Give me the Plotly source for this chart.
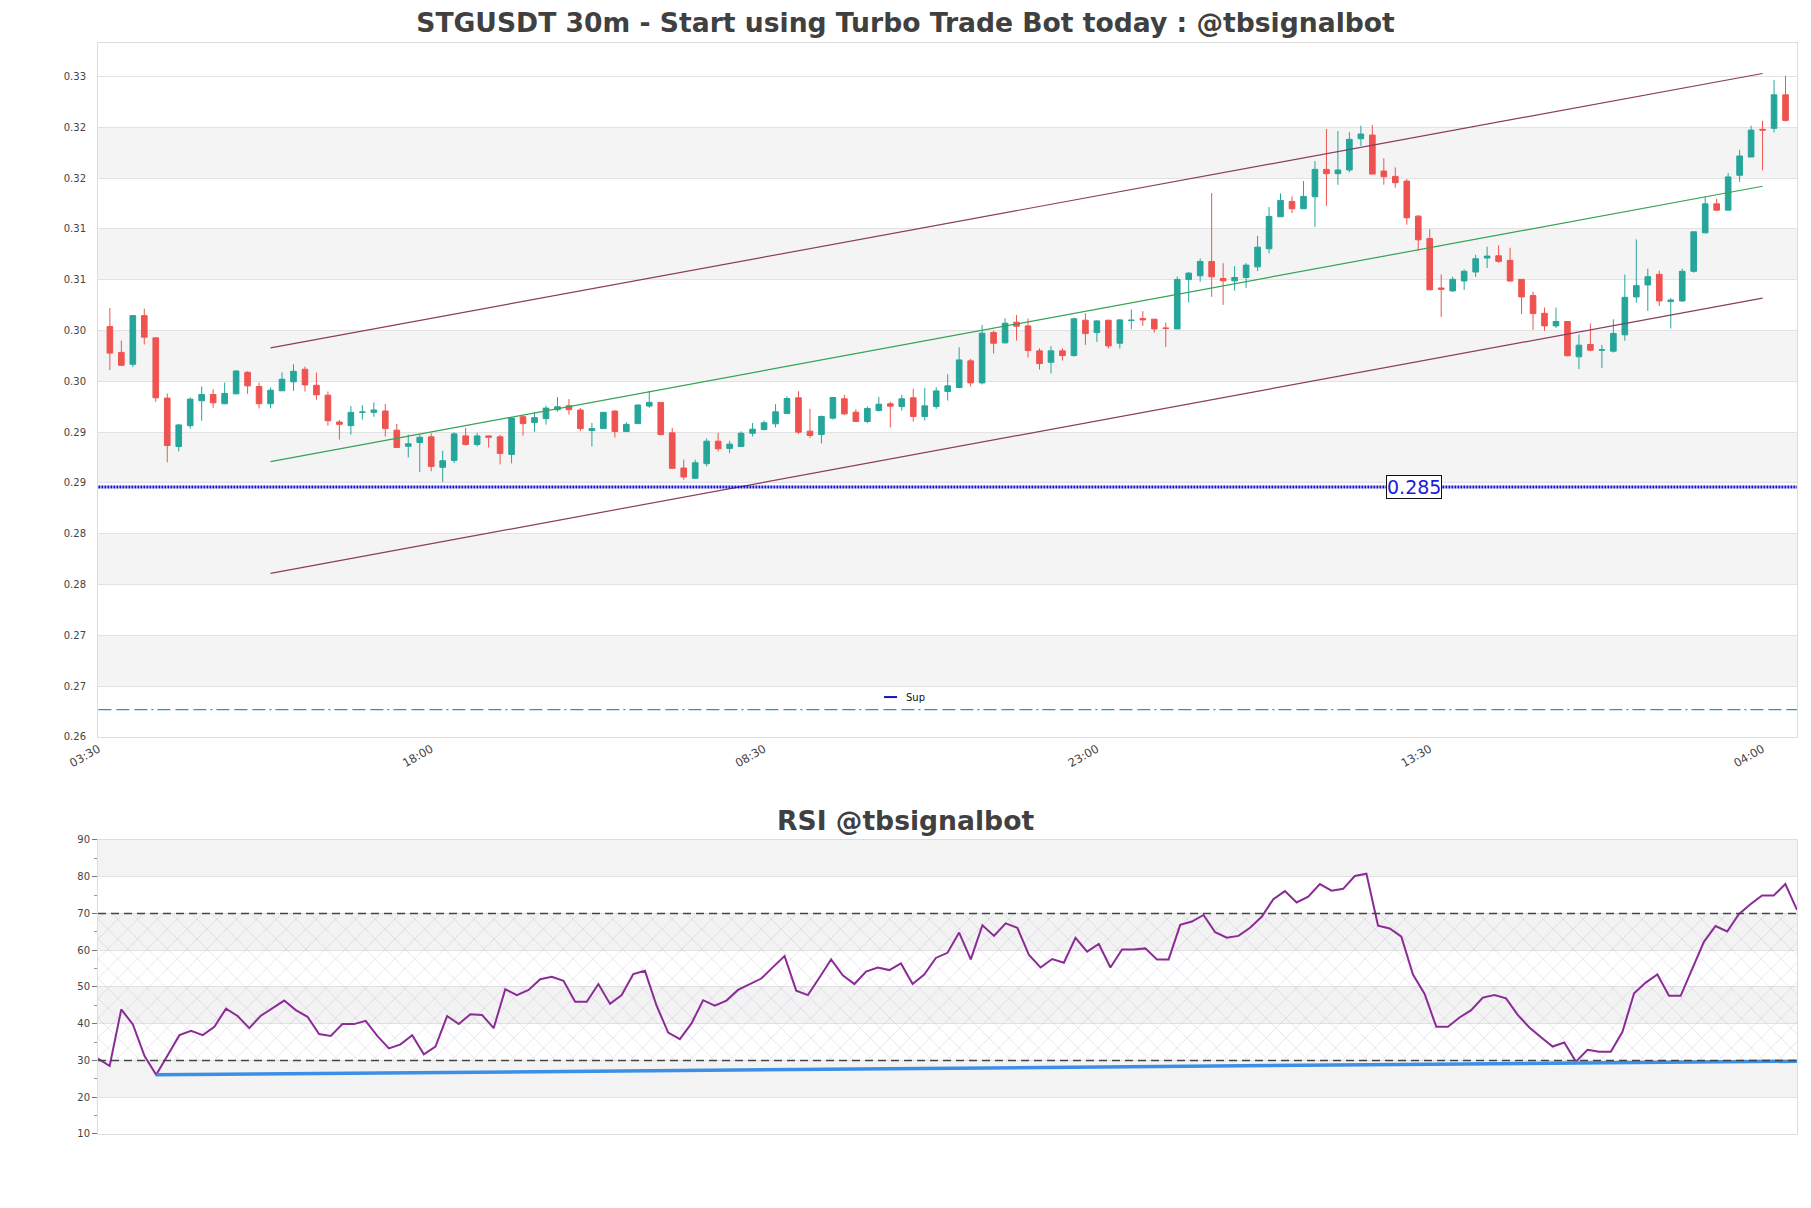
import plotly.graph_objects as go
import pandas as pd

# ---------------- data ----------------
open_ = [0.30039, 0.29785, 0.29668, 0.30147, 0.29928, 0.29335, 0.28859, 0.29064, 0.29309, 0.29371,
         0.29280, 0.29377, 0.29589, 0.29449, 0.29280, 0.29407, 0.29495, 0.29619, 0.29462, 0.29364,
         0.29100, 0.29064, 0.29195, 0.29195, 0.29208, 0.29020, 0.28862, 0.28898, 0.28954, 0.28654,
         0.28722, 0.28963, 0.28879, 0.28963, 0.28954, 0.28781, 0.29152, 0.29094, 0.29133, 0.29221,
         0.29260, 0.29218, 0.29016, 0.29035, 0.29208, 0.29006, 0.29084, 0.29257, 0.29293, 0.28993,
         0.28647, 0.28546, 0.28690, 0.28911, 0.28840, 0.28859, 0.28989, 0.29026, 0.29082, 0.29183,
         0.29338, 0.29010, 0.28977, 0.29138, 0.29328, 0.29197, 0.29105, 0.29213, 0.29279, 0.29252,
         0.29338, 0.29154, 0.29252, 0.29400, 0.29439, 0.29702, 0.29485, 0.29980, 0.29879, 0.30082,
         0.30046, 0.29800, 0.29688, 0.29800, 0.29754, 0.30102, 0.29980, 0.30102, 0.29875, 0.30099,
         0.30118, 0.30112, 0.30026, 0.30016, 0.30503, 0.30539, 0.30680, 0.30512, 0.30489, 0.30522,
         0.30627, 0.30805, 0.31120, 0.31271, 0.31199, 0.31317, 0.31586, 0.31544, 0.31580, 0.31888,
         0.31924, 0.31570, 0.31517, 0.31471, 0.31126, 0.30906, 0.30419, 0.30390, 0.30488, 0.30576,
         0.30714, 0.30736, 0.30691, 0.30504, 0.30344, 0.30170, 0.30046, 0.30089, 0.29742, 0.29863,
         0.29807, 0.29797, 0.29958, 0.30331, 0.30449, 0.30553, 0.30285, 0.30291, 0.30583, 0.30962,
         0.31247, 0.31185, 0.31528, 0.31708, 0.31980, 0.31990, 0.32320]
high = [0.30222, 0.29902, 0.30153, 0.30215, 0.29928, 0.29381, 0.29081, 0.29342, 0.29449, 0.29423,
        0.29488, 0.29609, 0.29599, 0.29488, 0.29439, 0.29589, 0.29668, 0.29645, 0.29586, 0.29400,
        0.29120, 0.29257, 0.29266, 0.29293, 0.29276, 0.29081, 0.28976, 0.28973, 0.28989, 0.28817,
        0.28999, 0.29042, 0.28993, 0.28967, 0.28973, 0.29146, 0.29162, 0.29201, 0.29260, 0.29345,
        0.29325, 0.29237, 0.29091, 0.29195, 0.29214, 0.29097, 0.29273, 0.29407, 0.29293, 0.29042,
        0.28729, 0.28729, 0.28937, 0.28993, 0.28914, 0.29009, 0.29091, 0.29115, 0.29275, 0.29354,
        0.29403, 0.29229, 0.29164, 0.29347, 0.29367, 0.29226, 0.29252, 0.29347, 0.29301, 0.29367,
        0.29426, 0.29436, 0.29442, 0.29570, 0.29836, 0.29721, 0.30056, 0.30000, 0.30121, 0.30154,
        0.30118, 0.29826, 0.29846, 0.29826, 0.30128, 0.30170, 0.30102, 0.30102, 0.30112, 0.30207,
        0.30191, 0.30112, 0.30079, 0.30532, 0.30578, 0.30709, 0.31353, 0.30663, 0.30634, 0.30663,
        0.30933, 0.31215, 0.31350, 0.31320, 0.31471, 0.31668, 0.31984, 0.31964, 0.31951, 0.32016,
        0.32023, 0.31695, 0.31606, 0.31491, 0.31136, 0.30998, 0.30553, 0.30530, 0.30602, 0.30746,
        0.30825, 0.30838, 0.30815, 0.30504, 0.30383, 0.30226, 0.30226, 0.30092, 0.29961, 0.30069,
        0.29860, 0.30111, 0.30550, 0.30897, 0.30609, 0.30589, 0.30318, 0.30609, 0.30972, 0.31319,
        0.31296, 0.31551, 0.31780, 0.32016, 0.32065, 0.32467, 0.32507]
low = [0.29612, 0.29651, 0.29641, 0.29863, 0.29299, 0.28703, 0.28810, 0.29035, 0.29113, 0.29240,
       0.29276, 0.29371, 0.29377, 0.29234, 0.29234, 0.29407, 0.29407, 0.29400, 0.29319, 0.29064,
       0.28927, 0.28976, 0.29123, 0.29152, 0.28957, 0.28849, 0.28751, 0.28608, 0.28615, 0.28510,
       0.28696, 0.28869, 0.28859, 0.28849, 0.28683, 0.28693, 0.28967, 0.29006, 0.29074, 0.29201,
       0.29172, 0.29009, 0.28859, 0.29032, 0.28947, 0.29003, 0.29081, 0.29240, 0.28967, 0.28641,
       0.28533, 0.28543, 0.28663, 0.28810, 0.28794, 0.28859, 0.28957, 0.29016, 0.29046, 0.29183,
       0.28983, 0.28941, 0.28888, 0.29124, 0.29170, 0.29105, 0.29088, 0.29203, 0.29046, 0.29213,
       0.29105, 0.29115, 0.29229, 0.29311, 0.29433, 0.29449, 0.29469, 0.29774, 0.29872, 0.29902,
       0.29734, 0.29616, 0.29577, 0.29705, 0.29744, 0.29859, 0.29888, 0.29823, 0.29823, 0.30013,
       0.30046, 0.29980, 0.29839, 0.30016, 0.30276, 0.30480, 0.30332, 0.30253, 0.30391, 0.30420,
       0.30585, 0.30759, 0.31120, 0.31156, 0.31199, 0.31021, 0.31228, 0.31435, 0.31557, 0.31819,
       0.31540, 0.31435, 0.31406, 0.31041, 0.30785, 0.30401, 0.30134, 0.30383, 0.30399, 0.30527,
       0.30615, 0.30668, 0.30481, 0.30161, 0.30007, 0.29997, 0.30026, 0.29748, 0.29621, 0.29797,
       0.29631, 0.29784, 0.29899, 0.30275, 0.30193, 0.30242, 0.30020, 0.30282, 0.30570, 0.30956,
       0.31175, 0.31185, 0.31463, 0.31708, 0.31577, 0.31950, 0.32058]
close = [0.29778, 0.29658, 0.30147, 0.29935, 0.29338, 0.28869, 0.29071, 0.29325, 0.29371, 0.29289,
         0.29381, 0.29602, 0.29456, 0.29280, 0.29413, 0.29521, 0.29599, 0.29465, 0.29368, 0.29113,
         0.29077, 0.29195, 0.29198, 0.29218, 0.29035, 0.28849, 0.28885, 0.28950, 0.28663, 0.28719,
         0.28983, 0.28879, 0.28963, 0.28950, 0.28791, 0.29139, 0.29084, 0.29143, 0.29237, 0.29250,
         0.29221, 0.29035, 0.29035, 0.29195, 0.29006, 0.29077, 0.29267, 0.29293, 0.28976, 0.28644,
         0.28559, 0.28699, 0.28911, 0.28836, 0.28882, 0.28989, 0.29029, 0.29092, 0.29200, 0.29331,
         0.29000, 0.28967, 0.29154, 0.29341, 0.29180, 0.29105, 0.29233, 0.29275, 0.29256, 0.29328,
         0.29154, 0.29259, 0.29406, 0.29456, 0.29711, 0.29485, 0.29974, 0.29875, 0.30072, 0.30043,
         0.29803, 0.29675, 0.29800, 0.29754, 0.30115, 0.29970, 0.30095, 0.29849, 0.30105, 0.30102,
         0.30105, 0.30016, 0.30020, 0.30503, 0.30565, 0.30680, 0.30529, 0.30489, 0.30522, 0.30644,
         0.30821, 0.31123, 0.31281, 0.31199, 0.31320, 0.31586, 0.31544, 0.31580, 0.31882, 0.31934,
         0.31540, 0.31514, 0.31455, 0.31110, 0.30893, 0.30401, 0.30406, 0.30504, 0.30583, 0.30707,
         0.30733, 0.30681, 0.30488, 0.30331, 0.30167, 0.30046, 0.30089, 0.29752, 0.29856, 0.29807,
         0.29810, 0.29971, 0.30327, 0.30442, 0.30530, 0.30291, 0.30301, 0.30583, 0.30972, 0.31247,
         0.31185, 0.31512, 0.31718, 0.31973, 0.31973, 0.32320, 0.32068]
rsi = [30.5, 28.5, 43.9, 39.8, 31.2, 26.1, 31.5, 36.9, 38.1, 36.9,
       39.2, 44.1, 42.1, 38.8, 42.2, 44.2, 46.3, 43.7, 41.9, 37.2,
       36.7, 39.9, 39.9, 40.8, 36.7, 33.3, 34.4, 36.9, 31.7, 33.8,
       42.1, 39.9, 42.6, 42.4, 38.8, 49.4, 47.8, 49.2, 52.1, 52.8,
       51.7, 46.0, 46.0, 50.8, 45.4, 47.8, 53.5, 54.4, 44.9, 37.6,
       35.8, 40.1, 46.4, 44.9, 46.3, 49.2, 50.8, 52.3, 55.4, 58.4,
       49.0, 47.8, 52.6, 57.5, 53.2, 50.8, 54.2, 55.3, 54.6, 56.4,
       50.8, 53.4, 57.9, 59.3, 64.8, 57.5, 66.8, 63.9, 67.3, 66.1,
       58.7, 55.3, 57.6, 56.6, 63.4, 59.6, 61.7, 55.3, 60.2, 60.2,
       60.5, 57.5, 57.5, 66.9, 67.8, 69.6, 64.9, 63.4, 63.9, 66.1,
       69.1, 73.9, 76.1, 73.0, 74.6, 78.0, 76.2, 76.7, 80.2, 80.8,
       66.7, 65.9, 63.7, 53.4, 48.1, 39.2, 39.2, 41.7, 43.7, 47.1,
       47.8, 46.9, 42.4, 39.0, 36.3, 33.8, 34.9, 29.7, 32.9, 32.4,
       32.4, 37.8, 48.3, 51.2, 53.4, 47.6, 47.6, 55.1, 62.3, 66.6,
       65.1, 69.8, 72.5, 74.9, 74.9, 78.0, 71.0]

start_time = pd.Timestamp("2023-06-12 04:00")
bar_step = pd.Timedelta(minutes=30)
times = pd.date_range(start_time, periods=len(close), freq="30min")
tick_times = pd.date_range(start_time - bar_step, periods=6, freq="870min")
tick_text = [t.strftime("%H:%M") for t in tick_times]

price_ticks = [0.26, 0.265, 0.27, 0.275, 0.28, 0.285, 0.29, 0.295, 0.30, 0.305, 0.31, 0.315, 0.32, 0.325]
price_tick_text = ["0.26", "0.27", "0.27", "0.28", "0.28", "0.29", "0.29", "0.30", "0.30", "0.31",
                   "0.31", "0.32", "0.32", "0.33"]
price_range = [0.26, 0.3283]
rsi_ticks = [10, 20, 30, 40, 50, 60, 70, 80, 90]

channel_idx = [14, 144]
channel_upper = [0.2983, 0.3253]
channel_mid = [0.2871, 0.3142]
channel_lower = [0.2761, 0.3032]

support_level = 0.2846
support_text = "0.285"
support_label_idx = 113.6
support_name = "Sup"
lower_level = 0.2627

rsi_trend_idx = [5, 146]
rsi_trend_val = [26.1, 29.8]
rsi_levels = [30, 70]

# ---------------- figure ----------------
FONT = "DejaVu Sans"
fig = go.Figure()

fig.add_trace(go.Candlestick(
    x=times, open=open_, high=high, low=low, close=close,
    increasing=dict(line=dict(color="#26a69a", width=1), fillcolor="#26a69a"),
    decreasing=dict(line=dict(color="#ef5350", width=1), fillcolor="#ef5350"),
    whiskerwidth=0, showlegend=False, xaxis="x", yaxis="y"))

ch_x = [times[i] for i in channel_idx]
for vals, col in [(channel_upper, "#8a3d5c"), (channel_lower, "#8a3d5c"), (channel_mid, "#35a355")]:
    fig.add_trace(go.Scatter(x=ch_x, y=vals, mode="lines", line=dict(color=col, width=1.2),
                             showlegend=False, hoverinfo="skip", xaxis="x", yaxis="y"))

x_lo = times[0] - bar_step
x_hi = times[-1] + bar_step
fig.add_trace(go.Scatter(x=[x_lo, x_hi], y=[support_level, support_level], mode="lines",
                         line=dict(color="#1414c8", width=3, dash="2px,1px"),
                         name=support_name, showlegend=False, hoverinfo="skip", xaxis="x", yaxis="y"))
fig.add_trace(go.Scatter(x=[x_lo, x_hi], y=[lower_level, lower_level], mode="lines",
                         line=dict(color="#2196d6", width=1.3,
                                   dash="13px,5px,13px,5px,13px,4px,2px,4px"),
                         showlegend=False, hoverinfo="skip", xaxis="x", yaxis="y"))

# RSI hatch region
fig.add_trace(go.Scatter(x=[times[0], times[-1], times[-1], times[0], times[0]],
                         y=[rsi_levels[0], rsi_levels[0], rsi_levels[1], rsi_levels[1], rsi_levels[0]],
                         mode="none", fill="toself", fillcolor="rgba(190,170,215,0.08)",
                         fillpattern=dict(shape="x", fgcolor="rgba(140,115,170,0.55)",
                                          bgcolor="rgba(0,0,0,0)", size=14, solidity=0.09,
                                          fillmode="overlay"),
                         showlegend=False, hoverinfo="skip", xaxis="x2", yaxis="y2"))
fig.add_trace(go.Scatter(x=times, y=rsi, mode="lines", line=dict(color="#8b2c96", width=2),
                         showlegend=False, xaxis="x2", yaxis="y2"))
fig.add_trace(go.Scatter(x=[times[i] for i in rsi_trend_idx], y=rsi_trend_val, mode="lines",
                         line=dict(color="#3d8fe6", width=3.5), showlegend=False,
                         hoverinfo="skip", xaxis="x2", yaxis="y2"))

shapes = []
for k in range(1, len(price_ticks) - 1, 2):
    shapes.append(dict(type="rect", xref="x domain", yref="y", x0=0, x1=1,
                       y0=price_ticks[k], y1=price_ticks[k + 1],
                       fillcolor="#f4f4f4", line=dict(width=0), layer="below"))
for k in range(1, len(rsi_ticks) - 1, 2):
    shapes.append(dict(type="rect", xref="x2 domain", yref="y2", x0=0, x1=1,
                       y0=rsi_ticks[k], y1=rsi_ticks[k + 1],
                       fillcolor="#f3f3f3", line=dict(width=0), layer="below"))
for lv in rsi_levels:
    shapes.append(dict(type="line", xref="x2 domain", yref="y2", x0=0, x1=1, y0=lv, y1=lv,
                       line=dict(color="#444444", width=1.3, dash="8px,5px"), layer="above"))
# legend sample for the support line
shapes.append(dict(type="line", xref="paper", yref="paper", x0=0.4626, x1=0.4703,
                   y0=0.4005, y1=0.4005, line=dict(color="#1414c8", width=2)))

label_x = times[0] + bar_step * support_label_idx
annotations = [
    dict(x=label_x, y=support_level, xref="x", yref="y", text=support_text, showarrow=False,
         font=dict(family=FONT, size=19, color="#1a1ae0"), bgcolor="white",
         bordercolor="#111111", borderwidth=1, borderpad=0),
    dict(x=0.475, y=0.2878, xref="paper", yref="paper", text="<b>RSI @tbsignalbot</b>",
         showarrow=False, font=dict(family=FONT, size=26.6, color="#404040"),
         xanchor="center", yanchor="middle"),
    dict(x=0.4744, y=0.4005, xref="paper", yref="paper", text=support_name, showarrow=False,
         xanchor="left", yanchor="middle", font=dict(family=FONT, size=10, color="#111111")),
]

axis_common = dict(showline=True, mirror=True, linecolor="#dddddd", linewidth=1,
                   zeroline=False)

fig.update_layout(
    width=1811, height=1208,
    margin=dict(l=90, r=22, t=35, b=82),
    paper_bgcolor="white", plot_bgcolor="white",
    font=dict(family=FONT, size=10, color="#444444"),
    title=dict(text="<b>STGUSDT 30m - Start using Turbo Trade Bot today : @tbsignalbot</b>",
               x=0.4956, xref="container", y=0.9876, yref="container", yanchor="middle",
               font=dict(family=FONT, size=26.6, color="#404040")),
    xaxis=dict(domain=[0, 1], anchor="y", range=[x_lo - pd.Timedelta(minutes=1), x_hi],
               rangeslider=dict(visible=False), showgrid=False,
               tickvals=list(tick_times), ticktext=tick_text, tickangle=-30,
               tickfont=dict(size=11.5, color="#444444"), ticks="", **axis_common),
    yaxis=dict(domain=[0.3639, 1.0], anchor="x", range=price_range,
               tickvals=price_ticks, ticktext=price_tick_text,
               showgrid=True, gridcolor="#e2e2e2", gridwidth=1,
               ticks="outside", ticklen=9, tickcolor="rgba(0,0,0,0)",
               tickfont=dict(size=10, color="#444444"), **axis_common),
    xaxis2=dict(domain=[0, 1], anchor="y2", range=[times[0], times[-1]],
                showgrid=False, showticklabels=False, ticks="", **axis_common),
    yaxis2=dict(domain=[0, 0.2695], anchor="x2", range=[10, 90], tickvals=rsi_ticks,
                showgrid=True, gridcolor="#e2e2e2", gridwidth=1,
                ticks="outside", ticklen=5, tickcolor="#777777",
                minor=dict(dtick=5, ticks="outside", ticklen=3, tickcolor="#999999", showgrid=False),
                tickfont=dict(size=10, color="#444444"), **axis_common),
    shapes=shapes,
    annotations=annotations,
    showlegend=False,
)

fig.write_html("out.html")
